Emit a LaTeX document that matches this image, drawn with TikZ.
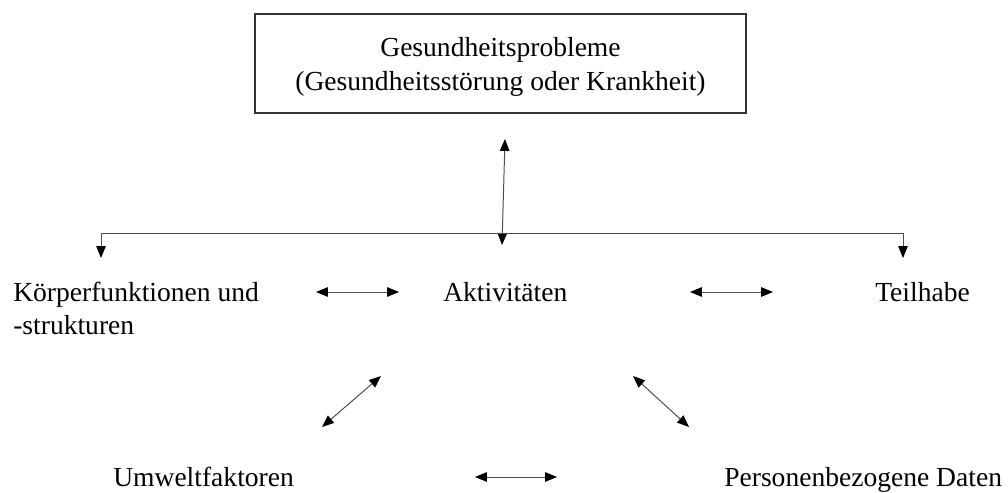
\documentclass[tikz,border=0pt]{standalone}
\usepackage{fontspec}
\setmainfont{Liberation Serif}
\usetikzlibrary{arrows.meta}
\begin{document}
\begin{tikzpicture}[x=0.25mm, y=-0.25mm, >={Triangle[length=8.5pt,width=6.8pt,color=black]},
  every node/.style={inner sep=0pt, font=\fontsize{19.6}{24}\selectfont},
  lab/.style={anchor=base west, align=left},
  link/.style={<->, draw=black!70, line width=0.7pt}]
\useasboundingbox (0,0) rectangle (1008,493);
\node[draw=black!80, line width=1.3pt, minimum width=122.75mm, minimum height=24.75mm] (gesund) at (500.5,63.5) {};
\node[align=center] (gesundtext) at (500.5,67) {Gesundheitsprobleme\\(Gesundheitsstörung oder Krankheit)};
\node[lab] (koerper) at (13,335) {Körperfunktionen und\\-strukturen};
\node[lab] (akt) at (443,302) {Aktivitäten};
\node[lab] (teil) at (875,302) {Teilhabe};
\node[lab] (umwelt) at (113,487) {Umweltfaktoren};
\node[lab] (person) at (724,487) {Personenbezogene Daten};

\coordinate (gtop) at (505,139);
\coordinate (gbot) at (502,245);
\coordinate (lk) at (101,258);
\coordinate (lt) at (903,258);
\coordinate (bar) at (903,233);
\coordinate (ka1) at (316,292);
\coordinate (ka2) at (399,292);
\coordinate (at1) at (690,292);
\coordinate (at2) at (773,292);
\coordinate (au1) at (381,376);
\coordinate (au2) at (322,427);
\coordinate (ap1) at (633,376);
\coordinate (ap2) at (689,427);
\coordinate (up1) at (475,477);
\coordinate (up2) at (557,477);

\draw[link] (gtop) -- (gbot);
\draw[link] (lk) |- (bar) -- (lt);
\draw[link] (ka1) -- (ka2);
\draw[link] (at1) -- (at2);
\draw[link] (au1) -- (au2);
\draw[link] (ap1) -- (ap2);
\draw[link] (up1) -- (up2);
\end{tikzpicture}
\end{document}
